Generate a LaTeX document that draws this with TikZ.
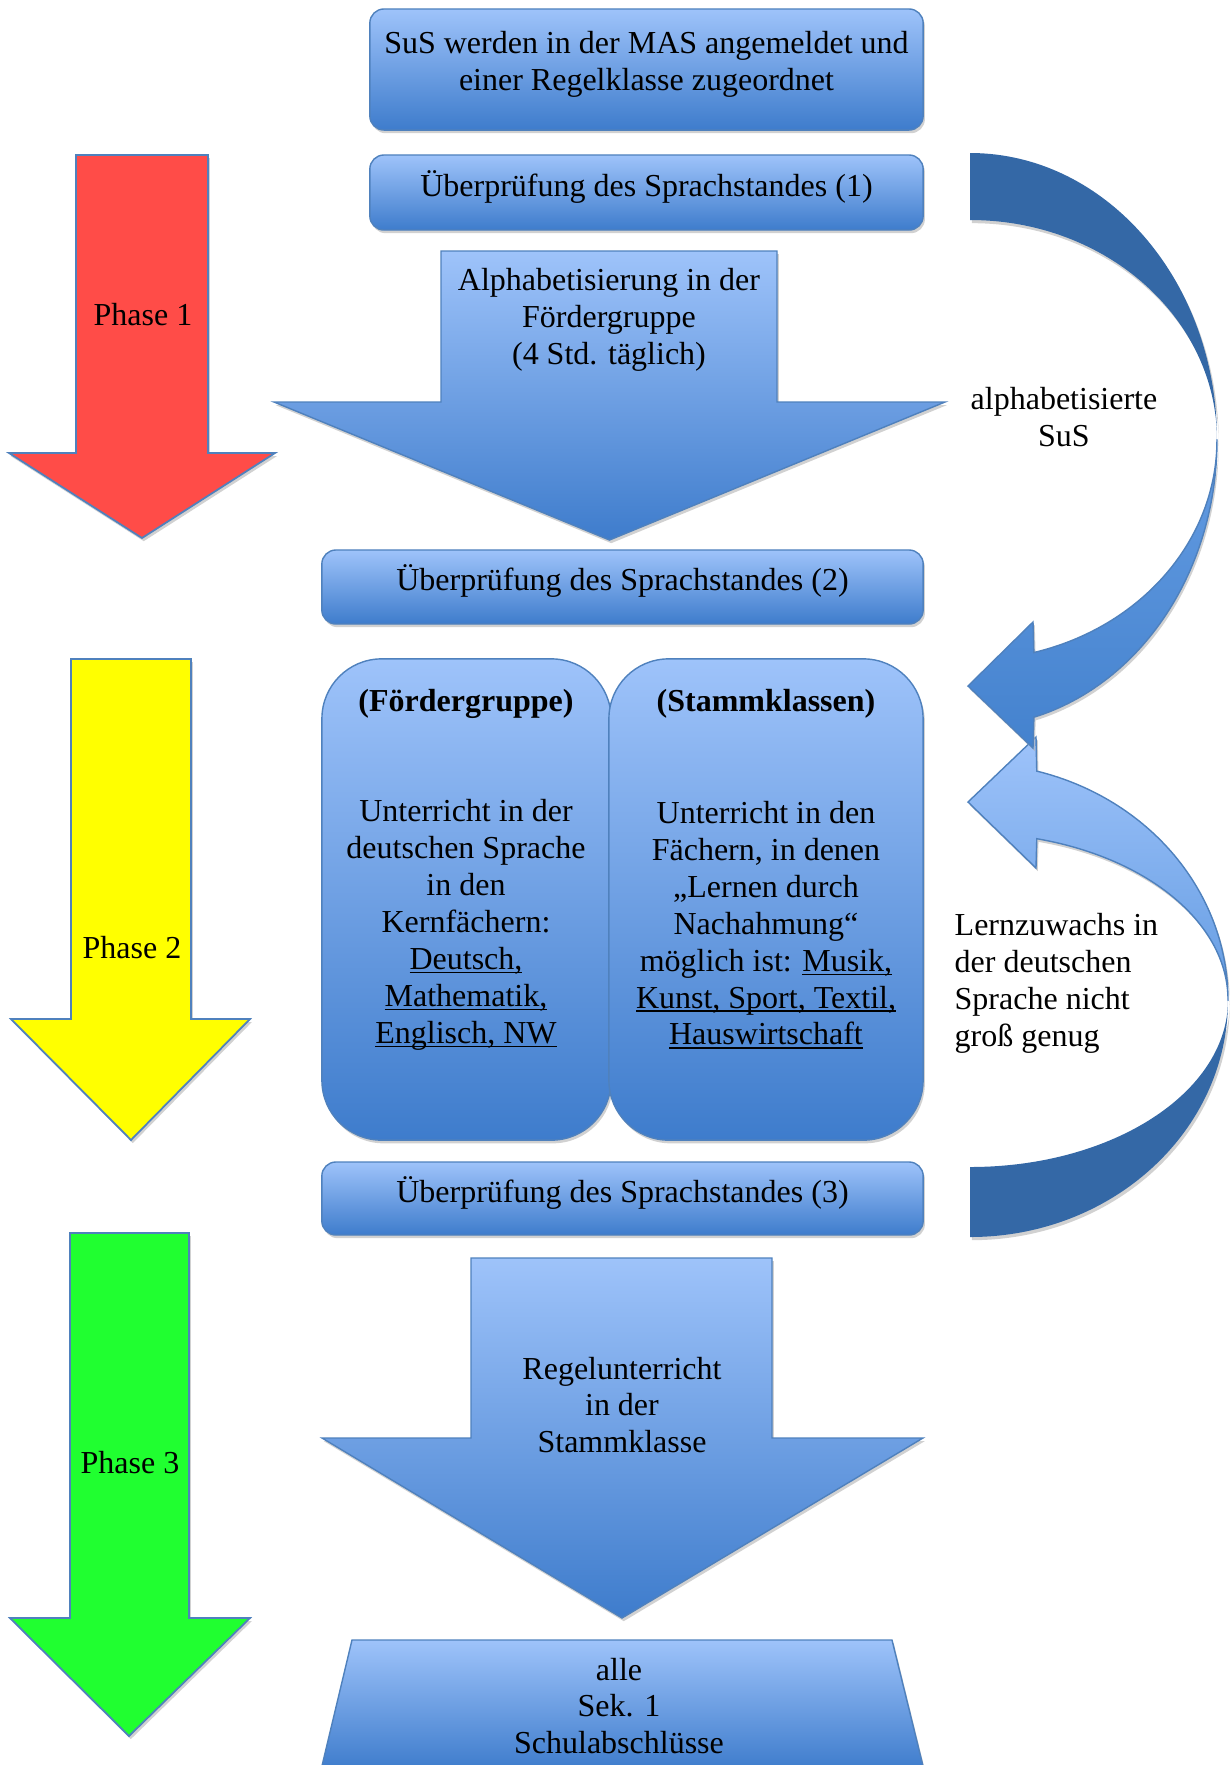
\documentclass[tikz,border=0pt]{standalone}
\usepackage{fontspec}
\setmainfont{Liberation Serif}
\usepackage{tikz}
\usetikzlibrary{shadows,positioning,calc}
\definecolor{boxBorder}{RGB}{79,129,189}
\definecolor{boxTop}{RGB}{158,195,250}
\definecolor{boxBottom}{RGB}{62,124,204}
\definecolor{bandDark}{RGB}{52,104,166}
\definecolor{bandMid}{RGB}{100,156,226}
\definecolor{bandLow}{RGB}{68,130,206}
\definecolor{phaseRed}{RGB}{255,76,72}
\definecolor{phaseYellow}{RGB}{255,255,0}
\definecolor{phaseGreen}{RGB}{32,255,48}
\newcommand\uln[1]{\setbox0\hbox{#1}\rlap{\rule[-1.1pt]{\wd0}{0.4pt}}\box0}

\begin{document}
\begin{tikzpicture}[x=0.01cm, y=-0.01cm,
    softshadow/.style={drop shadow={shadow xshift=0.5pt, shadow yshift=-0.9pt,
      fill=black!30, opacity=0.6}},
    bluefill/.style={draw=boxBorder, line width=0.4pt,
      top color=boxTop, bottom color=boxBottom, softshadow},
    txt/.style={font=\fontsize{9.1pt}{10.5pt}\selectfont, align=center, inner sep=0pt},
    infobox/.style={bluefill, txt, rounded corners=4pt},
    checkbox/.style={infobox, text height=6.6pt, text depth=4.6pt},
    phasearrow/.style={draw=boxBorder, line width=0.5pt, softshadow}
  ]
  \useasboundingbox (0,0) rectangle (1231,1765);
  \clip (0,0) rectangle (1231,1765);

  % phase arrows on the left
  \path[phasearrow, fill=phaseRed] (76,155) -- (208,155) -- (208,453) -- (275,453)
    -- (142,538) -- (9,453) -- (76,453) -- cycle;
  \node[txt] (phase1) at (143,315) {Phase 1};
  \path[phasearrow, fill=phaseYellow] (71,659) -- (191,659) -- (191,1019) -- (250,1019)
    -- (131,1140) -- (11,1019) -- (71,1019) -- cycle;
  \node[txt] (phase2) at (132,948) {Phase 2};
  \path[phasearrow, fill=phaseGreen] (70,1233) -- (189,1233) -- (189,1618) -- (250,1618)
    -- (129,1736) -- (10,1618) -- (70,1618) -- cycle;
  \node[txt] (phase3) at (130,1463) {Phase 3};

  % middle column
  \node[infobox, minimum width=5.53cm, minimum height=1.21cm] (mas) at (646.5,69.5) {};
  \node[txt] (mastext) at (646.5,64.5) {SuS werden in der MAS angemeldet und\\einer Regelklasse zugeordnet};
  \node[checkbox, minimum width=5.53cm, minimum height=0.75cm] (check1) at (646.5,192.5)
    {Überprüfung des Sprachstandes (1)};

  \path[bluefill] (441,251) -- (777,251) -- (777,402) -- (945,402) -- (609.5,540)
    -- (274,402) -- (441,402) -- cycle;
  \node[txt] (alpha) at (609,319.5) {Alphabetisierung in der\\Fördergruppe\\(4 Std. täglich)};

  \node[checkbox, minimum width=6.01cm, minimum height=0.74cm] (check2) at (622.5,587)
    {Überprüfung des Sprachstandes (2)};

  \node[infobox, rounded corners=17pt, minimum width=2.89cm, minimum height=4.81cm]
    (foerder) at (466.5,899.5) {};
  \node[infobox, rounded corners=17pt, minimum width=3.14cm, minimum height=4.81cm]
    (stamm) at (766,899.5) {};
  \node[txt] (foerdertitel) at (466,704) {\textbf{(Fördergruppe)}};
  \node[txt] (foerdertext) at (466,925) {Unterricht in der\\deutschen Sprache\\in den\\Kernfächern:\\
    \uln{Deutsch,}\\\uln{Mathematik,}\\\uln{Englisch, NW}};
  \node[txt] (stammtitel) at (766,704) {\textbf{(Stammklassen)}};
  \node[txt] (stammtext) at (766,925) {Unterricht in den\\Fächern, in denen\\„Lernen durch\\Nachahmung“\\
    möglich ist: \uln{Musik,}\\\uln{Kunst, Sport, Textil,}\\\uln{Hauswirtschaft}};

  \node[checkbox, minimum width=6.01cm, minimum height=0.73cm] (check3) at (622.5,1198.5)
    {Überprüfung des Sprachstandes (3)};

  \path[bluefill] (471,1258) -- (772,1258) -- (772,1438) -- (923,1438) -- (622,1618)
    -- (322,1438) -- (471,1438) -- cycle;
  \node[txt] (regel) at (622,1405) {Regelunterricht\\in der\\Stammklasse};

  \path[bluefill] (321,1770) -- (352,1640) -- (892,1640) -- (924,1770) -- cycle;
  \node[txt] (abschluss) at (619,1706) {alle\\Sek. 1\\Schulabschlüsse};

  % curved arrow back (Lernzuwachs)
  \path[fill=bandDark, softshadow] (1228,1000)
    arc[start angle=0, end angle=90, x radius=258, y radius=237] -- (970,1167)
    arc[start angle=90, end angle=0, x radius=258, y radius=167] -- cycle;
  \path[draw=boxBorder, line width=0.4pt, top color=boxTop, bottom color=bandMid, softshadow]
    (1228,1000) arc[start angle=0, end angle=-75, x radius=258, y radius=237]
    -- (1036,737) -- (968,802) -- (1036,868) -- (1036.8,838.7)
    arc[start angle=-75, end angle=0, x radius=258, y radius=167] -- cycle;

  % curved arrow forward (alphabetisierte SuS)
  \path[fill=bandDark, softshadow] (970,153)
    arc[start angle=-90, end angle=0, x radius=247, y radius=287]
    arc[start angle=0, end angle=-90, x radius=247, y radius=220] -- cycle;
  \path[draw=boxBorder, line width=0.4pt, top color=bandMid, bottom color=bandLow, softshadow]
    (1217,440) arc[start angle=0, end angle=75, x radius=247, y radius=287]
    -- (1033,748) -- (968,686) -- (1033,622) -- (1033.9,652.5)
    arc[start angle=75, end angle=0, x radius=247, y radius=220] -- cycle;

  \node[txt] (alphasus) at (1064,417) {alphabetisierte\\SuS};
  \node[txt, align=left, anchor=west] (lernzuwachs) at (954,983)
    {Lernzuwachs in\\der deutschen\\Sprache nicht\\groß genug};
\end{tikzpicture}
\end{document}
